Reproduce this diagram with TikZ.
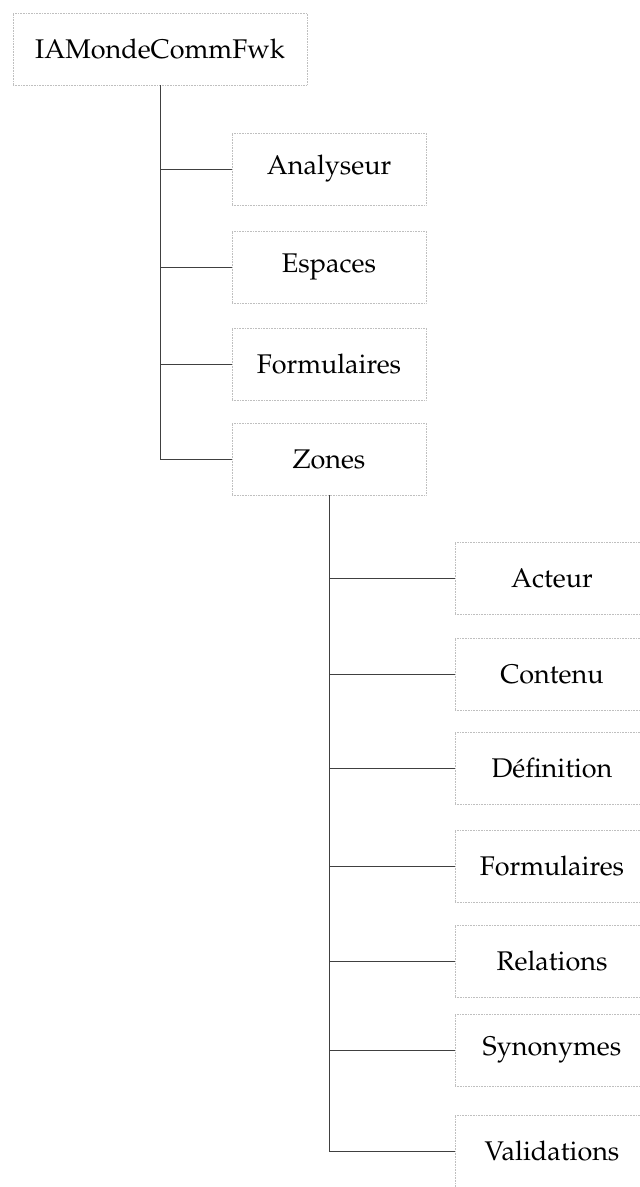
\documentclass[tikz,border=0pt]{standalone}
\usepackage[T1]{fontenc}
\usepackage{mathpazo}
\begin{document}
\begin{tikzpicture}[x=1pt,y=-1pt,
  box/.style={draw=black!25, densely dotted, line width=0.6pt,
    minimum width=194pt, minimum height=72pt, inner sep=0pt,
    font=\fontsize{27}{30}\selectfont},
  rootbox/.style={box, minimum width=294pt},
  link/.style={draw=black!75, line width=1pt}]
\useasboundingbox (0,0) rectangle (640,1187);
\clip (0,0) rectangle (640,1187);

% top level
\node[rootbox] (root) at (160,49) {IAMondeCommFwk};
\node[box] (an) at (329,169) {Analyseur};
\node[box] (es) at (329,267) {Espaces};
\node[box] (fo) at (329,364) {Formulaires};
\node[box] (zo) at (329,459) {Zones};

% children of Zones
\node[box] (ac) at (552,578)  {Acteur};
\node[box] (co) at (552,674)  {Contenu};
\node[box] (de) at (552,768)  {D\'efinition};
\node[box] (zf) at (552,866)  {Formulaires};
\node[box] (re) at (552,961)  {Relations};
\node[box] (sy) at (552,1050) {Synonymes};
\node[box] (va) at (552,1151) {Validations};

% tree connectors
\draw[link] (root.south) |- (zo.west);
\foreach \c in {an,es,fo}
  \draw[link] (root.south |- \c.west) -- (\c.west);

\draw[link] (zo.south) |- (va.west);
\foreach \c in {ac,co,de,zf,re,sy}
  \draw[link] (zo.south |- \c.west) -- (\c.west);
\end{tikzpicture}
\end{document}
